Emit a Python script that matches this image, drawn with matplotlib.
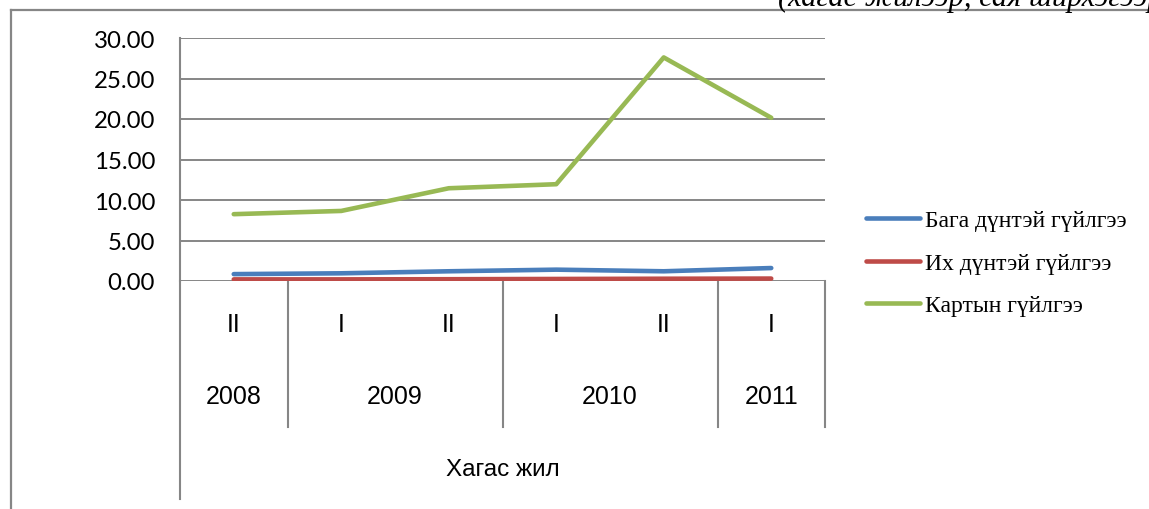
import matplotlib
matplotlib.use("Agg")
import matplotlib.pyplot as plt
from matplotlib.lines import Line2D
from matplotlib.transforms import blended_transform_factory

# ---- data ----
halves = ["II", "I", "II", "I", "II", "I"]
years = ["2008", "2009", "2010", "2011"]
year_spans = [(0, 0), (1, 2), (3, 4), (5, 5)]
axis_title = "Хагас жил"
unit_note = "(хагас жилээр, сая ширхэгээр)"
series_names = ["Бага дүнтэй гүйлгээ", "Их дүнтэй гүйлгээ", "Картын гүйлгээ"]
small_tx = [0.85, 0.95, 1.20, 1.40, 1.20, 1.60]
large_tx = [0.20, 0.20, 0.22, 0.25, 0.28, 0.30]
card_tx = [8.25, 8.65, 11.45, 11.95, 27.60, 20.15]
yticks = [0, 5, 10, 15, 20, 25, 30]

colors = ["#4A7EBB", "#BE4B48", "#98B954"]
grid_c = "#868686"

W, H = 1149, 510
fig = plt.figure(figsize=(W / 100, H / 100), dpi=100)
L, R, T, B = 180, 825, 39, 282
ax = fig.add_axes([L / W, 1 - B / H, (R - L) / W, (B - T) / H])

x = list(range(len(halves)))
for vals, c, n in zip([small_tx, large_tx, card_tx], colors, series_names):
    ax.plot(x, vals, color=c, lw=3.3, label=n, solid_capstyle="round",
            solid_joinstyle="round", zorder=3)

ax.set_xlim(-0.5, len(halves) - 0.5)
ax.set_ylim(0, 30)
ax.set_yticks(yticks)
ax.set_yticklabels([f"{v:.2f}" for v in yticks], family=["Lato", "DejaVu Sans"],
                   fontsize=17.3, color="#000000")
ax.tick_params(axis="y", length=0, pad=18)
ax.set_xticks([])
ax.grid(axis="y", color=grid_c, lw=1.4, zorder=0)
ax.set_axisbelow(True)
for s in ["top", "right", "bottom"]:
    ax.spines[s].set_visible(False)
ax.spines["left"].set_color(grid_c)
ax.spines["left"].set_linewidth(1.5)

# ---- multi-level category axis ----
tr = blended_transform_factory(ax.transData, ax.transAxes)
axh = B - T
def fy(py):
    return (B - py) / axh

xfont = ["Liberation Sans", "DejaVu Sans"]
for i, h in enumerate(halves):
    ax.text(i, fy(325), h, transform=tr, ha="center", va="center",
            fontsize=18, family=xfont, color="#000000")
for (a, b), yname in zip(year_spans, years):
    ax.text((a + b) / 2, fy(397), yname, transform=tr, ha="center", va="center",
            fontsize=18, family=xfont, color="#000000")
ax.text(0.5, fy(470), axis_title, transform=ax.transAxes, ha="center", va="center",
        fontsize=17.5, family=xfont, color="#000000")

bounds = [-0.5] + [b + 0.5 for (_, b) in year_spans]
for k, bx in enumerate(bounds):
    y_end = fy(500) if k == 0 else fy(428)
    ax.plot([bx, bx], [0, y_end], transform=tr, color=grid_c, lw=1.5,
            clip_on=False, zorder=1)

# ---- legend ----
leg = ax.legend(loc="center left", bbox_to_anchor=(866 / W, 1 - 264 / H),
                bbox_transform=fig.transFigure, frameon=False,
                prop={"family": ["Liberation Serif", "DejaVu Serif"], "size": 17},
                handlelength=2.29, handletextpad=0.2, labelspacing=0.88,
                borderaxespad=0, borderpad=0)

# ---- outer chart border (partially visible) ----
bx0, by0 = 11 / W, 1 - 11 / H
fig.add_artist(Line2D([bx0, bx0], [by0, -0.05], transform=fig.transFigure,
                      color=grid_c, lw=1.6))
fig.add_artist(Line2D([bx0, 1.05], [by0, by0], transform=fig.transFigure,
                      color=grid_c, lw=1.6))

# clipped unit note at the very top
fig.text(778 / W, 1 - 6 / H, unit_note, ha="left", va="baseline",
         fontsize=22, style="italic", family=["Liberation Serif", "DejaVu Serif"],
         color="#000000")

fig.savefig("out.png", dpi=100)
